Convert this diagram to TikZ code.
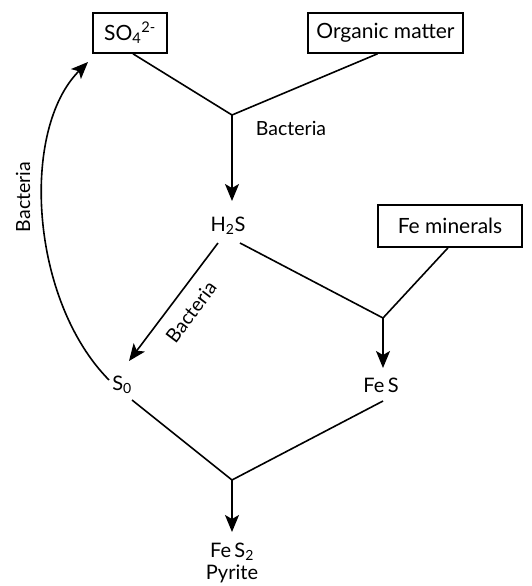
\documentclass[tikz,border=0pt]{standalone}
\usepackage{fontspec}
\setmainfont{Lato}
\usetikzlibrary{arrows.meta,calc}
\begin{document}
\begin{tikzpicture}[x=1pt,y=-1pt,
  box/.style={draw,line width=1.6pt,minimum height=40pt,inner sep=0pt,font=\fontsize{21}{24}\selectfont},
  txt/.style={inner sep=1pt,font=\fontsize{20}{24}\selectfont},
  lbl/.style={inner sep=0pt,font=\fontsize{19.5}{22}\selectfont},
  ln/.style={line width=1.6pt},
  arr/.style={line width=1.6pt,-{Stealth[length=17pt,width=14pt,inset=4pt]}}]
\useasboundingbox[fill=white] (0,0) rectangle (531,586);
\node[box,minimum width=74pt] (so4) at (130,33) {SO\textsubscript{4}\textsuperscript{2-}};
\node[box,minimum width=155pt] (org) at (385.5,33) {Organic matter};
\node[box,minimum width=144pt,minimum height=42pt] (fem) at (450,226) {Fe minerals};
\node[txt] (h2s) at (228,226) {H\textsubscript{2}S};
\node[txt] (s0) at (122,385) {S\textsubscript{0}};
\node[txt] (fes) at (381,385) {Fe\,S};
\node[txt] (fes2) at (232,552) {Fe\,S\textsubscript{2}};
\node[txt] (pyr) at (232,574) {Pyrite};
\node[lbl] (lb1) at (291,128) {Bacteria};
\node[lbl,rotate=53] (lb2) at (191,312) {Bacteria};
\node[lbl,rotate=90] (lb3) at (23,197) {Bacteria};
\coordinate (j1) at (232,115);
\coordinate (j2) at (383,318);
\coordinate (j3) at (232,480);
\coordinate (t1) at (232,201);
\coordinate (t2) at (383,368);
\coordinate (t3) at (232,532);
\coordinate (t4) at (129,361);
\coordinate (t5) at (88,62);
\coordinate (h2sl) at (218,243);
\coordinate (h2sr) at (240,243);
\coordinate (s0b) at (132,400);
\coordinate (s0a) at (109,380);
\coordinate (fesb) at (383,401);
\draw[ln] ($(so4.south)+(3,0)$) -- (j1) -- ($(org.south)+(-8,0)$);
\draw[arr] (j1) -- (t1);
\draw[ln] (h2sr) -- (j2) -- ($(fem.south)+(-2,0)$);
\draw[arr] (j2) -- (t2);
\draw[arr] (h2sl) -- (t4);
\draw[ln] (s0b) -- (j3) -- (fesb);
\draw[arr] (j3) -- (t3);
\draw[arr] (s0a) .. controls (30,300) and (20,130) .. (t5);
\end{tikzpicture}
\end{document}
